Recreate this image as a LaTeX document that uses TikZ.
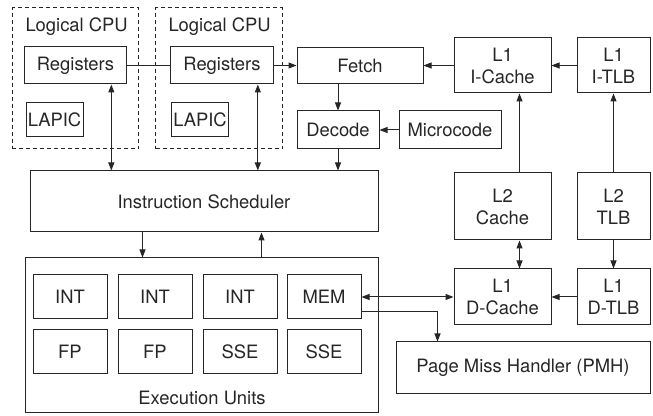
\documentclass[tikz,border=0pt]{standalone}
\usepackage{fontspec}
\setmainfont{TeX Gyre Heros}
\usetikzlibrary{arrows.meta}
\tikzset{
  box/.style={draw, inner sep=1pt, align=center},
  cpubox/.style={draw, dashed, dash pattern=on 3pt off 2.25pt, minimum width=95pt, minimum height=105.75pt},
  unit/.style={box, minimum width=55.5pt, minimum height=33pt},
  >={Triangle[length=6pt,width=4.5pt]}
}
\begin{document}
\begin{tikzpicture}[x=0.75pt,y=-0.75pt,line width=0.75pt,color=black!85,
  font=\fontsize{13.8}{16.5}\selectfont]
\useasboundingbox (0,0) rectangle (653,416);
\node[cpubox] (cpuA) at (75.5,78.5) {};
\node[cpubox] (cpuB) at (219,78.5) {};
\node[anchor=west,inner sep=0pt] (cpuAlbl) at (25,27) {Logical CPU};
\node[anchor=west,inner sep=0pt] (cpuBlbl) at (168,27) {Logical CPU};
\node[box, minimum width=77pt, minimum height=27.75pt] (regA) at (75.5,65.5) {Registers};
\node[box, minimum width=77pt, minimum height=27.75pt] (regB) at (222,65.5) {Registers};
\node[box, minimum width=42.75pt, minimum height=25.5pt] (lapicA) at (54.5,120) {LAPIC};
\node[box, minimum width=42.75pt, minimum height=25.5pt] (lapicB) at (200,120) {LAPIC};
\node[box, minimum width=94.5pt, minimum height=27pt] (fetch) at (360,65.5) {Fetch};
\node[box, minimum width=61.5pt, minimum height=28.5pt] (decode) at (338,130) {Decode};
\node[box, minimum width=76.5pt, minimum height=28.5pt] (micro) at (450,130) {Microcode};
\node[box, minimum width=72.75pt, minimum height=41.25pt] (icache) at (502.5,65.5) {L1\\I-Cache};
\node[box, minimum width=54.75pt, minimum height=41.25pt] (itlb) at (613.5,65.5) {L1\\I-TLB};
\node[box, minimum width=261pt, minimum height=45.75pt] (sched) at (204,201.5) {Instruction Scheduler};
\node[box, minimum width=72.75pt, minimum height=50.25pt] (l2cache) at (502.5,206.5) {L2\\Cache};
\node[box, minimum width=54.75pt, minimum height=50.25pt] (l2tlb) at (613.5,206.5) {L2\\TLB};
\node[box, minimum width=264.75pt, minimum height=115.5pt] (exec) at (201.5,335) {};
\node (execlbl) at (202,398) {Execution Units};
\node[unit] (int1) at (70,297) {INT};
\node[unit] (int2) at (155,297) {INT};
\node[unit] (int3) at (240,297) {INT};
\node[unit] (mem) at (324,297) {MEM};
\node[unit] (fp1) at (70,352) {FP};
\node[unit] (fp2) at (155,352) {FP};
\node[unit] (sse1) at (240,352) {SSE};
\node[unit] (sse2) at (324,352) {SSE};
\node[box, minimum width=72.75pt, minimum height=42pt] (dcache) at (502.5,297) {L1\\D-Cache};
\node[box, minimum width=54.75pt, minimum height=42pt] (dtlb) at (613.5,297) {L1\\D-TLB};
\node[box, minimum width=190.5pt, minimum height=39pt] (pmh) at (523,368) {Page Miss Handler (PMH)};
% front end
\draw (regA) -- (regB);
\draw[->] (regB) -- (fetch);
\draw[->] (icache) -- (fetch);
\draw[->] (itlb) -- (icache);
\draw[->] (fetch.south -| decode.north) -- (decode.north);
\draw[->] (micro) -- (decode);
\draw[->] (decode.south) -- (decode.south |- sched.north);
\draw[<->] ([xshift=-12pt]regA.south east) -- ([xshift=-12pt]regA.south east |- sched.north);
\draw[<->] ([xshift=-12pt]regB.south east) -- ([xshift=-12pt]regB.south east |- sched.north);
% scheduler and execution
\draw[->] ([xshift=84.75pt]sched.south west) -- ([xshift=84.75pt]sched.south west |- exec.north);
\draw[->] ([xshift=-87.75pt]exec.north east) -- ([xshift=-87.75pt]exec.north east |- sched.south);
% caches
\draw[->] ([xshift=-24pt]l2cache.north east) -- ([xshift=-24pt]l2cache.north east |- icache.south);
\draw[<->] ([xshift=-24pt]l2cache.south east) -- ([xshift=-24pt]l2cache.south east |- dcache.north);
\draw[->] (l2tlb.north) -- (itlb.south);
\draw[->] (l2tlb.south) -- (dtlb.north);
\draw[<->] (mem) -- (dcache);
\draw[->] (dtlb) -- (dcache);
\draw[->] ([yshift=-11.25pt]mem.east) -| ([xshift=31.5pt]pmh.north west);
\end{tikzpicture}
\end{document}
